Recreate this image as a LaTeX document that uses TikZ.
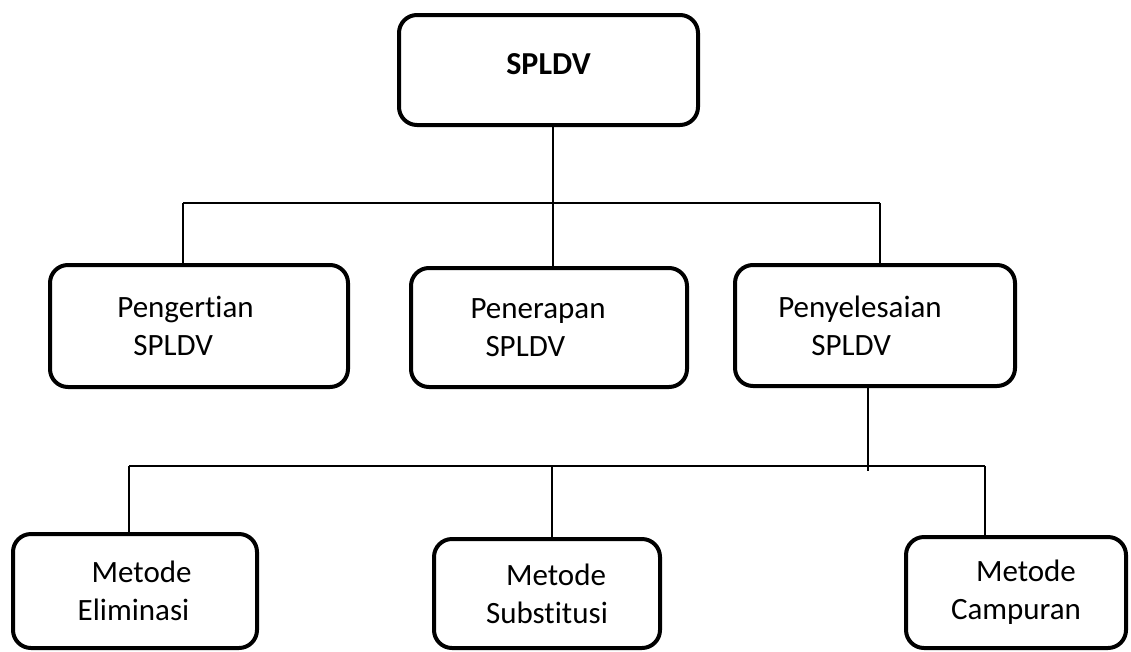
\documentclass[tikz,border=0pt]{standalone}
\usepackage{fontspec}
\setmainfont{Carlito}[Ligatures=NoCommon]
\usepackage{tikz}
\usetikzlibrary{positioning, calc}

\begin{document}
\begin{tikzpicture}[
  x=1pt, y=-1pt,
  box/.style={rectangle, rounded corners=18pt, draw=black, fill=white, line width=4pt, align=left, font=\fontsize{31}{38}\selectfont, inner sep=0pt},
  link/.style={draw=black, line width=1.6pt},
  title/.style={font=\fontsize{32}{38}\selectfont\bfseries, text depth=12pt}
]
\useasboundingbox (0,0) rectangle (1131,651);

% Row 1: root
\node[box, title, minimum width=299pt, minimum height=110pt] (root) at (548.5,70) {SPLDV};

% Row 2: sub topics
\node[box, minimum width=298pt, minimum height=122pt] (pengertian) at (199,326) {Pengertian\kern27pt\\\hspace*{16pt}SPLDV};
\node[box, minimum width=276pt, minimum height=119pt] (penerapan) at (549,327.5) {Penerapan\kern22pt\\\hspace*{15pt}SPLDV};
\node[box, minimum width=280pt, minimum height=121pt] (penyelesaian) at (875,325.5) {Penyelesaian\kern30pt\\\hspace*{33pt}SPLDV};

% Row 3: methods
\node[box, minimum width=244pt, minimum height=114pt] (eliminasi) at (135,591) {\hspace*{14pt}Metode\\Eliminasi\kern3pt};
\node[box, minimum width=226pt, minimum height=109pt] (substitusi) at (547,593.5) {\hspace*{20pt}Metode\\Substitusi};
\node[box, minimum width=220pt, minimum height=111pt] (campuran) at (1016,592.5) {\hspace*{25pt}Metode\\Campuran};

% Bus coordinates
\coordinate (busA west) at (183,203);
\coordinate (busA mid) at (553,203);
\coordinate (busA east) at (880,203);
\coordinate (busB west) at (129,466);
\coordinate (busB mid) at (552,466);
\coordinate (busB east) at (985,466);
\coordinate (busB drop) at (868,466);

% Root to row 2
\draw[link] (root.south -| busA mid) -- (busA mid);
\draw[link] (busA west) -- (busA east);
\draw[link] (busA west) -- (busA west |- pengertian.north);
\draw[link] (busA mid) -- (busA mid |- penerapan.north);
\draw[link] (busA east) -- (busA east |- penyelesaian.north);

% Penyelesaian to methods
\draw[link] (busB drop |- penyelesaian.south) -- ([yshift=-5pt]busB drop);
\draw[link] (busB west) -- (busB east);
\draw[link] (busB west) -- (busB west |- eliminasi.north);
\draw[link] (busB mid) -- (busB mid |- substitusi.north);
\draw[link] (busB east) -- (busB east |- campuran.north);

\end{tikzpicture}
\end{document}
